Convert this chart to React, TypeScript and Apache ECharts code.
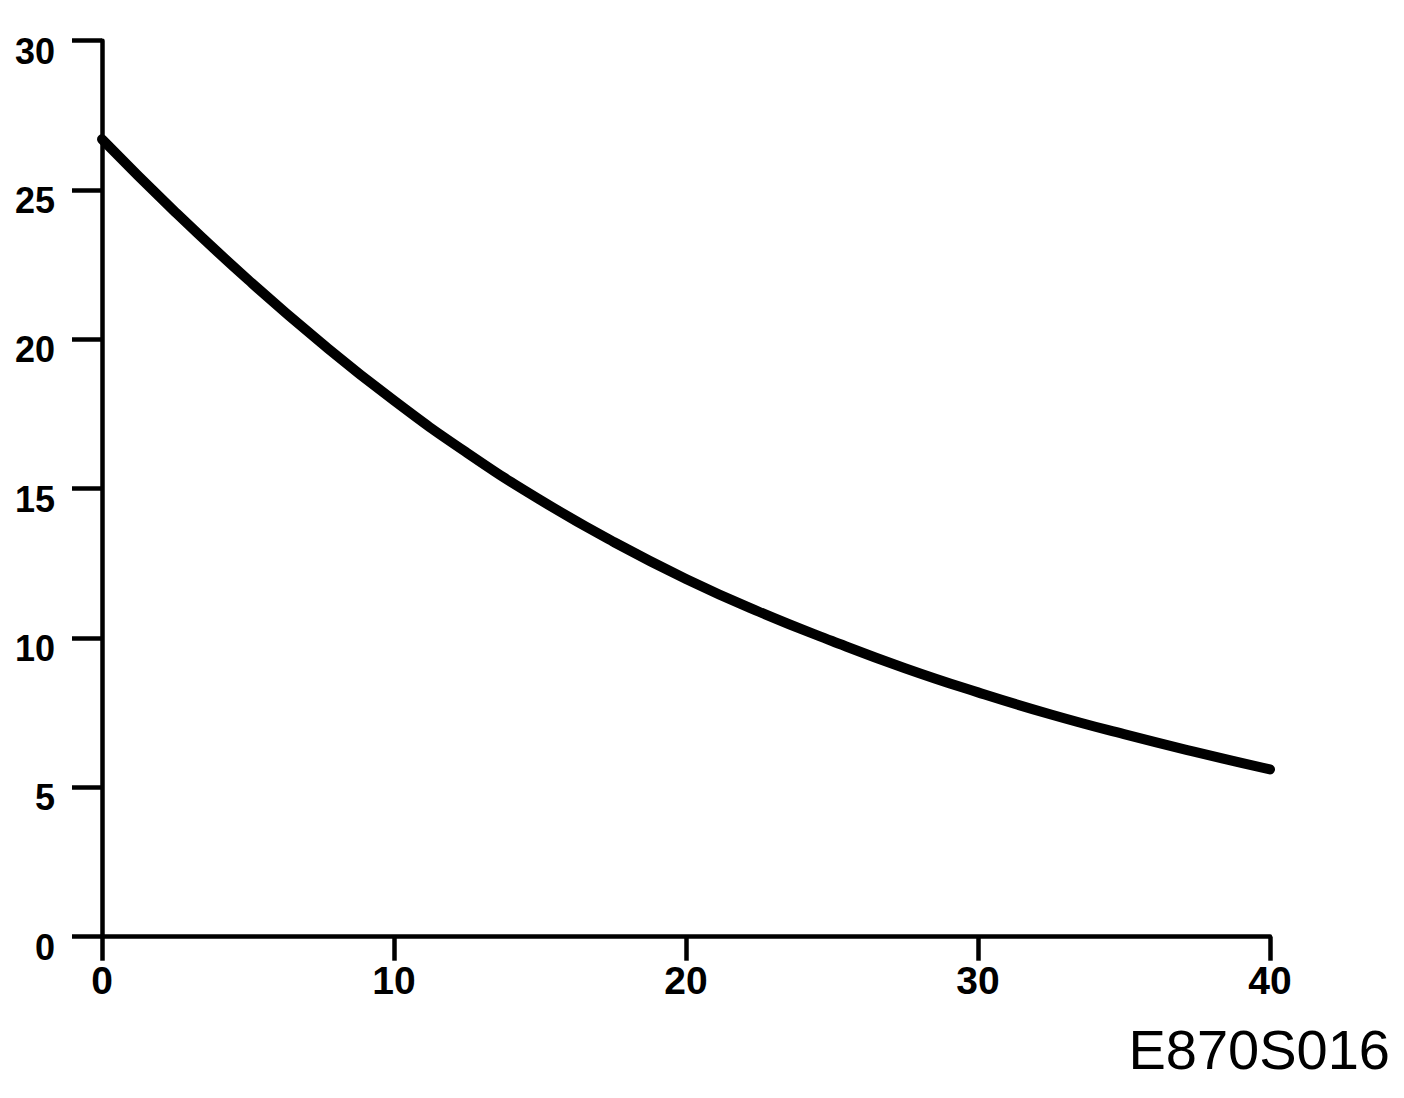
import React, { useEffect, useRef } from "react";
import * as echarts from "echarts";

const xValues = [0, 2.5, 5, 7.5, 10, 12.5, 15, 17.5, 20, 22.5, 25, 27.5, 30, 32.5, 35, 37.5, 40];
const yValues = [26.7, 24.27, 22.0, 19.89, 17.95, 16.2, 14.63, 13.23, 11.98, 10.88, 9.9, 8.99, 8.18, 7.44, 6.78, 6.17, 5.6];
const xTicks = [0, 10, 20, 30, 40];
const yTicks = [0, 5, 10, 15, 20, 25, 30];
const codeLabel = "E870S016";

export default function App() {
  const ref = useRef<HTMLDivElement>(null);
  useEffect(() => {
    if (!ref.current) return;
    const chart = echarts.init(ref.current, undefined, { renderer: "svg" });
    const font = "'Liberation Sans', Arial, Helvetica, sans-serif";
    chart.setOption({
      animation: false,
      backgroundColor: "#ffffff",
      grid: { left: 102, right: 134, top: 40.7, bottom: 161.3, containLabel: false },
      xAxis: {
        type: "value",
        min: xTicks[0],
        max: xTicks[xTicks.length - 1],
        interval: 10,
        axisLine: { show: true, lineStyle: { color: "#000", width: 4.5 } },
        axisTick: { show: true, inside: false, length: 24, lineStyle: { color: "#000", width: 4.5 } },
        axisLabel: {
          show: true,
          margin: 24,
          color: "#000",
          fontFamily: font,
          fontWeight: "bold",
          fontSize: 39,
        },
        splitLine: { show: false },
      },
      yAxis: {
        type: "value",
        min: yTicks[0],
        max: yTicks[yTicks.length - 1],
        interval: 5,
        axisLine: { show: true, lineStyle: { color: "#000", width: 4.5 } },
        axisTick: { show: true, inside: false, length: 30, lineStyle: { color: "#000", width: 4.5 } },
        axisLabel: {
          show: true,
          margin: 47,
          color: "#000",
          fontFamily: font,
          fontWeight: "bold",
          fontSize: 36,
          verticalAlign: "top",
          lineHeight: 21,
        },
        splitLine: { show: false },
      },
      series: [
        {
          type: "line",
          data: xValues.map((x, i) => [x, yValues[i]]),
          smooth: true,
          showSymbol: false,
          lineStyle: { color: "#000", width: 10, cap: "round", join: "round" },
        },
      ],
      graphic: [
        {
          type: "text",
          right: 14,
          top: 1021,
          style: {
            text: codeLabel,
            fontFamily: font,
            fontSize: 56,
            fill: "#000",
          },
        },
      ],
    });
    return () => chart.dispose();
  }, []);
  return (
    <div
      ref={ref}
      style={{ position: "absolute", left: 0, top: 0, width: 1404, height: 1098, background: "#fff" }}
    />
  );
}
